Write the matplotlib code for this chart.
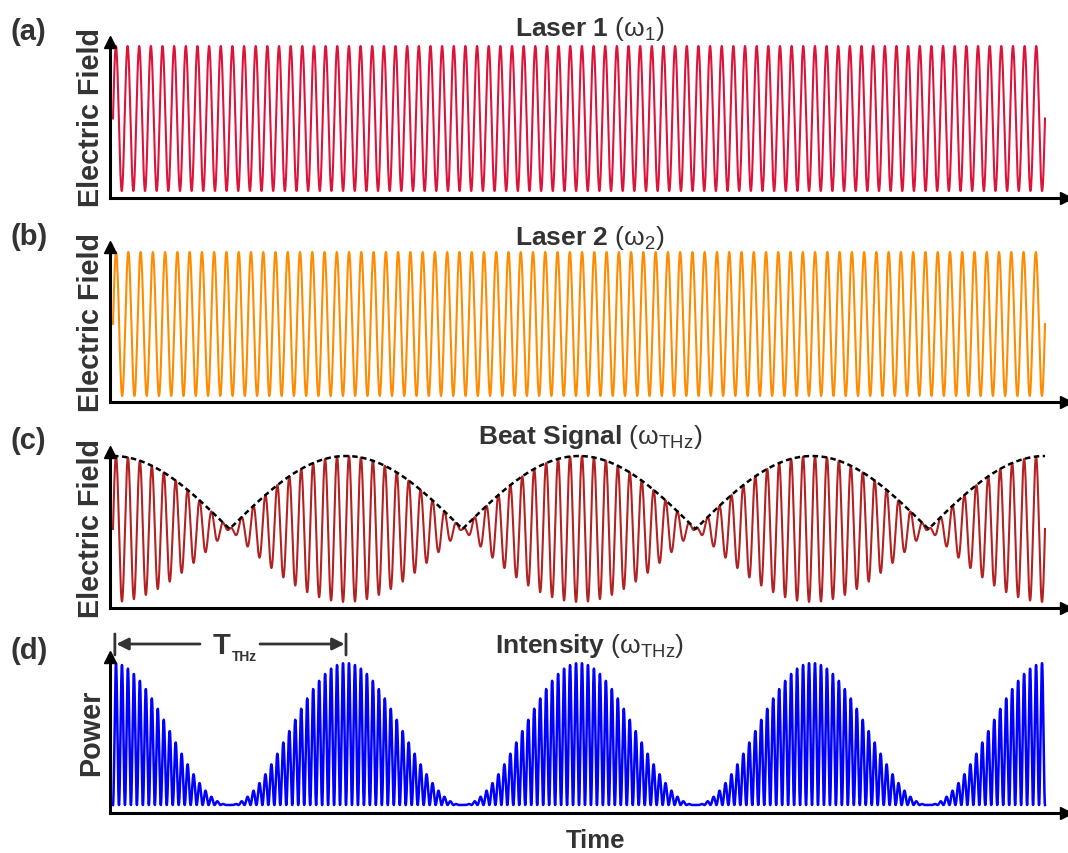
import numpy as np
import matplotlib
matplotlib.use("Agg")
import matplotlib.pyplot as plt

plt.rcParams['font.family'] = ['Liberation Sans', 'DejaVu Sans']
plt.rcParams['mathtext.fontset'] = 'custom'
plt.rcParams['mathtext.rm'] = 'Liberation Sans'
plt.rcParams['mathtext.bf'] = 'Liberation Sans:bold'
plt.rcParams['mathtext.it'] = 'Liberation Sans:italic'

# ---- data ----
laser1_cycles = 80          # optical cycles of laser 1 over the time window
laser2_cycles = 76          # optical cycles of laser 2 over the time window
n_samples = 20000
panel_letters = ['(a)', '(b)', '(c)', '(d)']
panel_titles = [r'$\mathbf{Laser\ 1}\ \mathregular{(\omega_1)}$',
                r'$\mathbf{Laser\ 2}\ \mathregular{(\omega_2)}$',
                r'$\mathbf{Beat\ Signal}\ \mathregular{(\omega_{THz})}$',
                r'$\mathbf{Intensity}\ \mathregular{(\omega_{THz})}$']
y_labels = ['Electric Field', 'Electric Field', 'Electric Field', 'Power']
x_label = 'Time'
line_colors = ['#DC143C', '#FF8C00', '#B22222', '#0000FF']

t = np.linspace(0.0, 1.0, n_samples)
e1 = np.sin(2 * np.pi * laser1_cycles * t)
e2 = np.sin(2 * np.pi * laser2_cycles * t)
beat = e1 + e2
envelope = np.abs(2 * np.cos(np.pi * (laser1_cycles - laser2_cycles) * t))
intensity = beat ** 2
signals = [e1, e2, beat, intensity]

# ---- layout (pixels) ----
W, H = 1068, 854
fig = plt.figure(figsize=(W / 100, H / 100), dpi=100)
TXT = '#333333'

ax_left, ax_right = 110, 1066
t0_px, t1_px = 113, 1045
# (axes top px, axes bottom px, value hi, px hi, value lo, px lo)
panels = [(43, 199, 1, 47, -1, 192),
          (248, 403, 1, 253, -1, 397),
          (453, 609, 2, 457, -2, 603),
          (658, 814, 4, 664, 0, 806)]
title_y = [29, 238, 437, 646]
letter_y = [32, 237, 441, 651]
line_widths = [1.5, 1.5, 1.5, 1.8]

axes = []
for i, (top, bot, vhi, phi, vlo, plo) in enumerate(panels):
    ax = fig.add_axes([ax_left / W, 1 - bot / H, (ax_right - ax_left) / W, (bot - top) / H])
    sx = t1_px - t0_px
    ax.set_xlim(-(t0_px - ax_left) / sx, 1 + (ax_right - t1_px) / sx)
    sc = (plo - phi) / (vhi - vlo)
    ax.set_ylim(vlo - (bot - plo) / sc, vhi + (phi - top) / sc)
    ax.plot(t, signals[i], color=line_colors[i], lw=line_widths[i], solid_joinstyle='round')
    if i == 2:
        ax.plot(t, envelope, color='black', lw=1.8, linestyle=(0, (2.2, 1.4)))
    for s in ['top', 'right']:
        ax.spines[s].set_visible(False)
    for s in ['left', 'bottom']:
        ax.spines[s].set_linewidth(2.2)
        ax.spines[s].set_color('black')
    ax.set_xticks([])
    ax.set_yticks([])
    ax.plot(1, 0, '>', color='black', ms=8, transform=ax.transAxes, clip_on=False)
    ax.plot(0, 1, '^', color='black', ms=8, transform=ax.transAxes, clip_on=False)
    axes.append(ax)

    fig.text(590 / W, 1 - title_y[i] / H, panel_titles[i], ha='center', va='center',
             fontsize=19, color=TXT)
    fig.text(10 / W, 1 - letter_y[i] / H, panel_letters[i], ha='left', va='center',
             fontsize=21, fontweight='bold', color=TXT)
    fig.text(91 / W, 1 - (top + bot - 6) / 2 / H, y_labels[i], rotation=90,
             ha='center', va='center', fontsize=20.7, fontweight='bold', color=TXT)

fig.text(595 / W, 1 - 841 / H, x_label, ha='center', va='center', fontsize=18.5,
         fontweight='bold', color=TXT)

# T_THz annotation on panel (d)
axd = axes[3]
period = 1.0 / (laser1_cycles - laser2_cycles)
ya = 1 - 645 / H
x_left_txt = (200 - t0_px) / (t1_px - t0_px)
x_right_txt = (260 - t0_px) / (t1_px - t0_px)
arrow_kw = dict(arrowstyle='-|>', color=TXT, lw=2, mutation_scale=18, shrinkA=0, shrinkB=1)
axd.annotate('', xy=(0.002, ya), xytext=(x_left_txt, ya),
             xycoords=('data', 'figure fraction'), textcoords=('data', 'figure fraction'),
             arrowprops=arrow_kw, annotation_clip=False)
axd.annotate('', xy=(period, ya), xytext=(x_right_txt, ya),
             xycoords=('data', 'figure fraction'), textcoords=('data', 'figure fraction'),
             arrowprops=arrow_kw, annotation_clip=False)
for xb in [0.002, period]:
    axd.annotate('', xy=(xb, 1 - 635 / H), xytext=(xb, 1 - 656 / H),
                 xycoords=('data', 'figure fraction'), textcoords=('data', 'figure fraction'),
                 arrowprops=dict(arrowstyle='-', color=TXT, lw=2, shrinkA=0, shrinkB=0),
                 annotation_clip=False)
fig.text(222 / W, 1 - 646 / H, 'T', ha='center', va='center', fontsize=21,
         fontweight='bold', color=TXT)
fig.text(244 / W, 1 - 657 / H, 'THz', ha='center', va='center', fontsize=10,
         fontweight='bold', color=TXT)

fig.savefig('out.png', dpi=100)
